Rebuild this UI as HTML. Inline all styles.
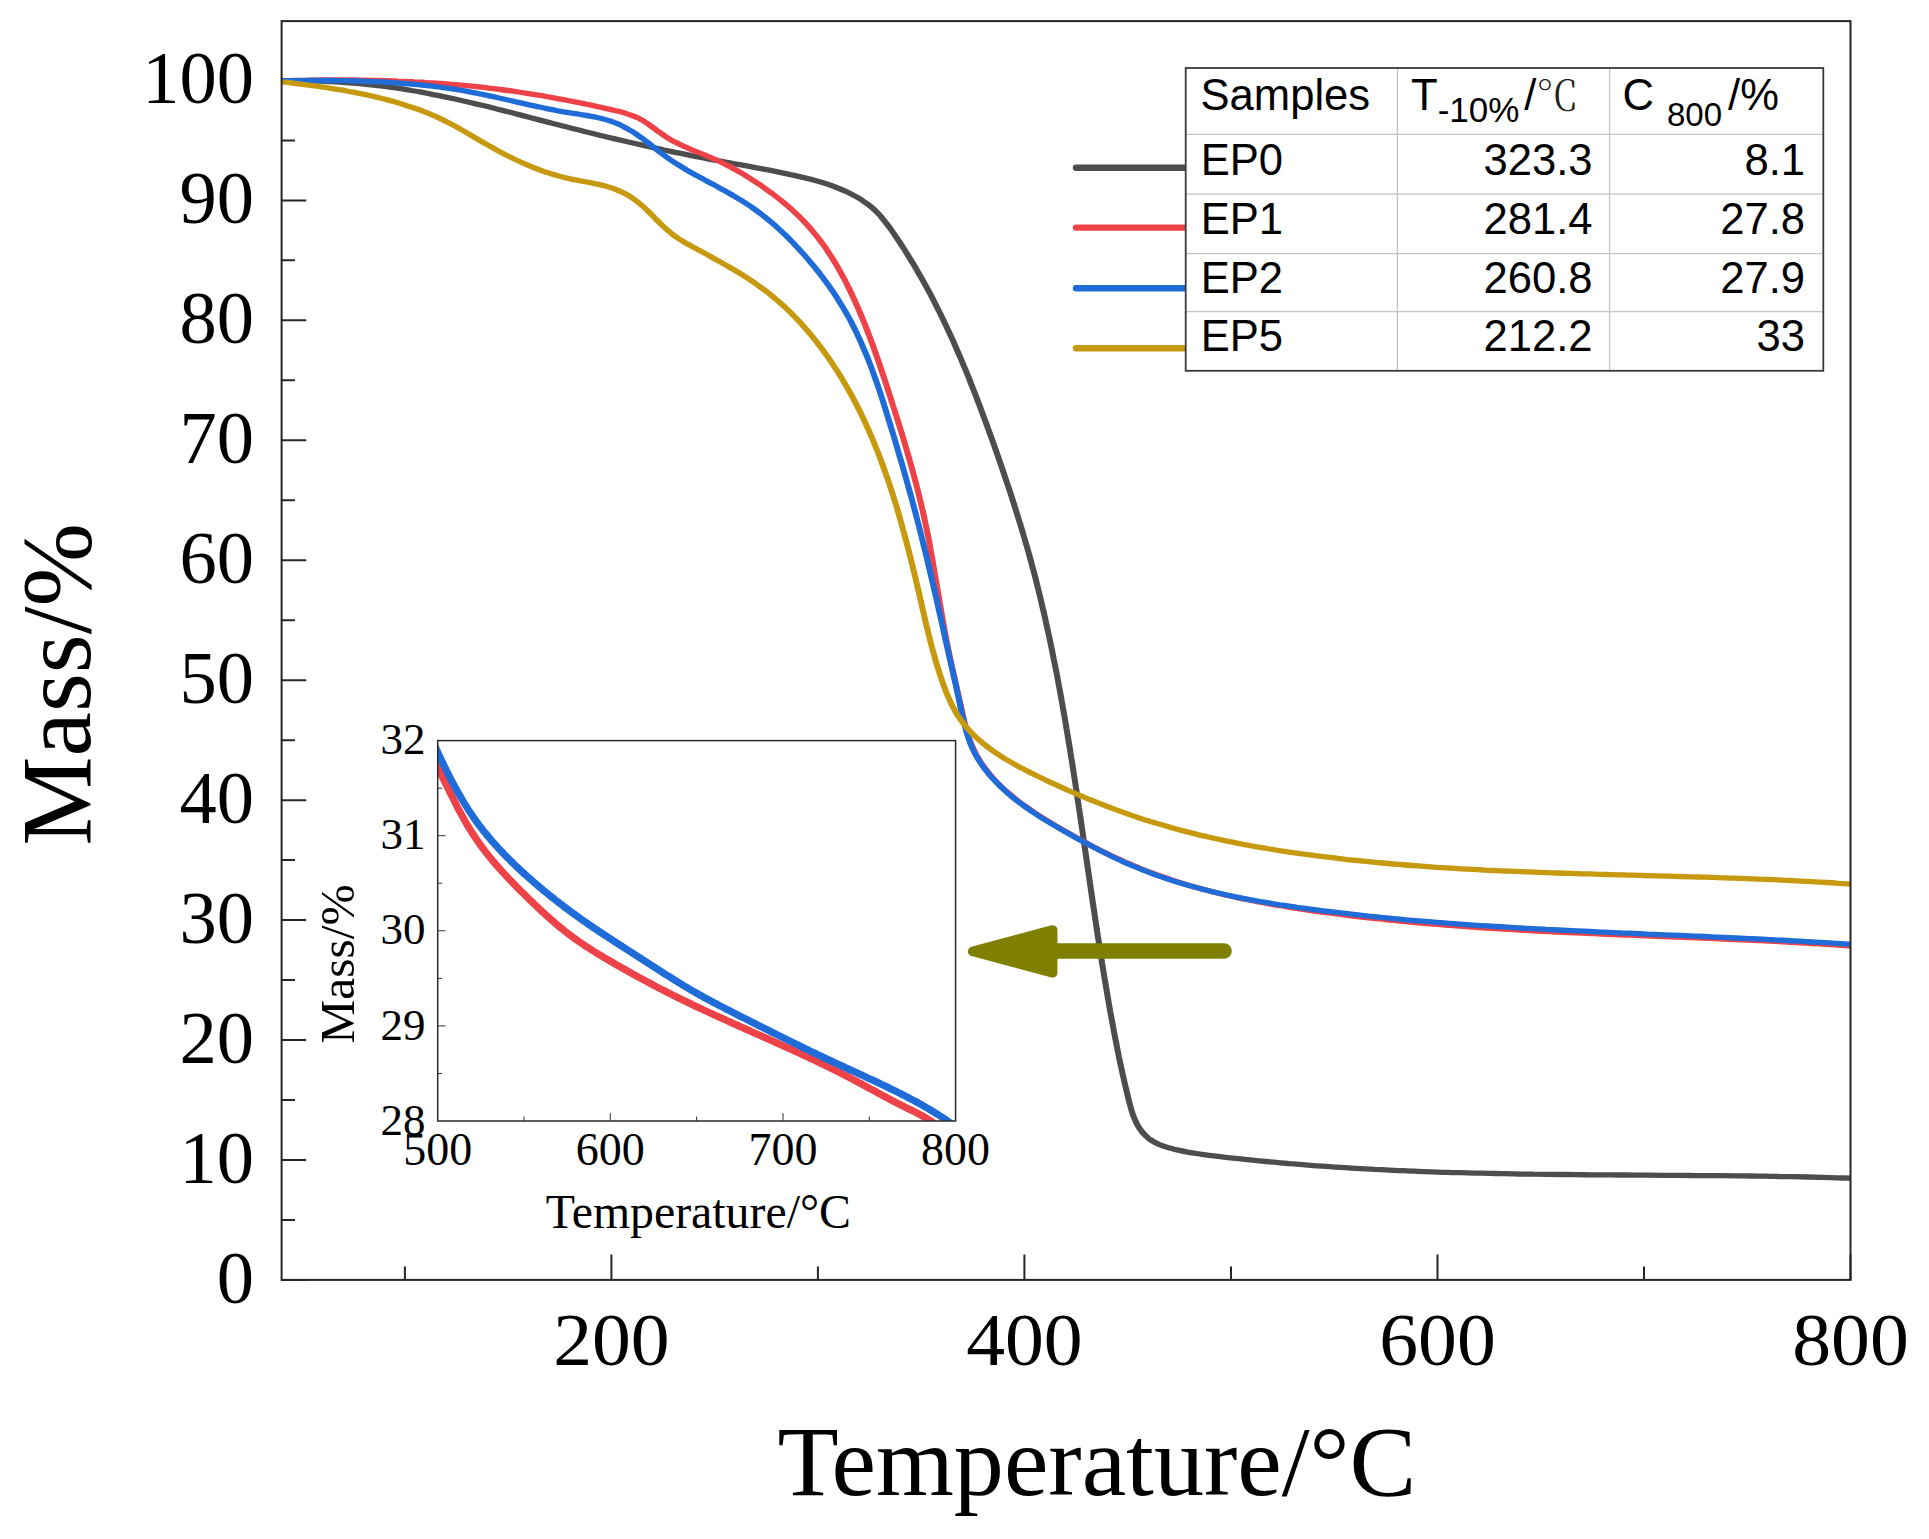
<!DOCTYPE html>
<html lang="en"><head><meta charset="utf-8"><title>TGA curves</title>
<style>html,body{margin:0;padding:0;background:#fff}body{width:1929px;height:1539px;overflow:hidden}svg{display:block}
.s{font-family:"Liberation Serif","Noto Serif CJK SC",serif;fill:#000}.a{font-family:"Liberation Sans","Noto Sans CJK SC",sans-serif;fill:#000}.cj{font-family:"Liberation Serif","Noto Serif CJK SC",serif;fill:#222;font-weight:300}
</style></head><body>
<svg width="1929" height="1539" viewBox="0 0 1929 1539">
<rect width="1929" height="1539" fill="#fff"/>
<defs><clipPath id="cm"><rect x="281.6" y="21.1" width="1568.9" height="1258.8"/></clipPath>
<clipPath id="ci"><rect x="437.7" y="740.6" width="517.9" height="380.4"/></clipPath></defs>
<path d="M281.6 1280.0h24.6M281.6 1160.0h24.6M281.6 1040.1h24.6M281.6 920.1h24.6M281.6 800.2h24.6M281.6 680.2h24.6M281.6 560.2h24.6M281.6 440.3h24.6M281.6 320.3h24.6M281.6 200.4h24.6M281.6 80.4h24.6M281.6 1220.0h13.4M281.6 1100.1h13.4M281.6 980.1h13.4M281.6 860.1h13.4M281.6 740.2h13.4M281.6 620.2h13.4M281.6 500.3h13.4M281.6 380.3h13.4M281.6 260.3h13.4M281.6 140.4h13.4M611.4 1280.0v-25.6M1024.4 1280.0v-25.6M1437.5 1280.0v-25.6M1850.5 1280.0v-25.6M404.9 1280.0v-13.4M817.9 1280.0v-13.4M1231.0 1280.0v-13.4M1644.0 1280.0v-13.4" stroke="#262626" stroke-width="2" fill="none"/>
<g clip-path="url(#cm)"><g transform="scale(1.14 1)" fill="none" stroke-width="5.3" stroke-linejoin="round" stroke-linecap="butt">
<path d="M247.4 80.7C250.3 80.7 253.8 80.7 256.1 80.7C257.7 80.7 258.4 80.7 260.0 80.7C263.0 80.7 270.9 80.9 272.7 80.9C273.2 81.0 273.2 81.0 273.7 81.0C275.4 81.0 282.1 81.3 285.4 81.4C287.7 81.5 289.2 81.6 291.2 81.7C293.4 81.9 295.5 82.0 298.0 82.2C301.3 82.4 307.3 82.9 309.2 83.1C309.9 83.2 310.0 83.2 310.7 83.2C312.8 83.4 320.2 84.2 323.3 84.6C325.1 84.8 325.9 84.9 327.5 85.1C329.8 85.4 333.0 85.8 335.9 86.2C339.0 86.7 343.4 87.4 345.6 87.7C346.9 87.9 347.2 88.0 348.4 88.2C351.1 88.6 356.8 89.7 360.9 90.5C365.0 91.2 371.7 92.7 373.0 92.9C373.2 93.0 373.1 93.0 373.4 93.0C374.6 93.3 381.6 94.8 385.8 95.8C389.9 96.8 394.1 97.8 398.1 98.8C402.0 99.8 407.5 101.2 409.3 101.7C409.9 101.8 409.9 101.8 410.5 102.0C412.4 102.5 418.7 104.2 422.8 105.3C426.9 106.4 431.2 107.6 435.1 108.8C438.8 109.8 443.8 111.3 445.8 111.8C446.6 112.1 446.6 112.1 447.4 112.3C449.6 113.0 455.6 114.7 459.7 115.9C463.8 117.1 468.1 118.4 472.0 119.6C475.5 120.6 480.1 122.0 482.2 122.6C483.1 122.9 483.3 122.9 484.2 123.2C486.6 123.9 492.4 125.6 496.5 126.8C500.6 128.0 508.4 130.2 508.8 130.3C508.8 130.3 508.8 130.3 508.8 130.3C509.1 130.4 517.7 132.9 521.1 133.8C523.4 134.5 525.0 134.9 527.0 135.5C529.1 136.0 530.9 136.5 533.3 137.2C536.7 138.1 544.4 140.2 545.4 140.5C545.5 140.5 545.5 140.5 545.6 140.5C546.6 140.8 553.8 142.7 558.0 143.8C562.1 144.8 567.9 146.3 570.3 146.9C571.2 147.1 571.4 147.2 572.3 147.4C574.4 147.9 579.0 149.1 582.6 150.0C586.6 150.9 590.9 152.0 595.0 152.9C599.2 153.9 605.4 155.3 607.4 155.8C608.1 155.9 608.1 155.9 608.7 156.1C610.6 156.5 616.0 157.7 619.9 158.6C623.9 159.5 628.4 160.4 632.3 161.2C635.9 162.0 640.2 162.9 642.4 163.4C643.5 163.6 643.7 163.6 644.8 163.9C647.4 164.4 653.2 165.6 657.3 166.4C661.5 167.3 667.7 168.7 669.8 169.1C670.5 169.3 670.5 169.3 671.2 169.4C673.1 169.8 678.6 171.0 682.2 171.9C685.9 172.8 691.5 174.1 693.4 174.6C694.0 174.7 694.0 174.7 694.6 174.9C696.6 175.4 703.8 177.3 706.9 178.1C708.8 178.6 709.8 178.9 711.5 179.4C713.7 180.1 716.3 180.9 719.0 181.8C722.3 182.9 727.9 185.0 729.8 185.7C730.4 186.0 730.4 186.0 731.0 186.3C733.0 187.1 741.2 191.0 742.8 191.8C743.2 192.0 743.2 192.0 743.6 192.2C745.0 193.0 751.3 196.8 752.9 197.9C753.5 198.3 753.6 198.3 754.2 198.7C755.7 199.9 760.2 203.4 762.1 205.0C763.1 205.9 763.5 206.2 764.5 207.2C766.2 208.9 769.5 212.5 771.1 214.4C772.1 215.6 772.4 216.1 773.3 217.3C775.0 219.6 778.6 224.9 779.9 226.8C780.4 227.7 780.5 227.8 781.0 228.7C782.4 230.9 787.1 238.8 788.2 240.6C788.5 241.1 788.5 241.0 788.8 241.6C789.7 243.3 793.4 249.6 795.1 252.7C796.2 254.8 797.0 256.2 798.0 258.1C799.2 260.2 800.3 262.4 801.7 265.0C803.4 268.4 806.8 275.1 807.6 276.7C807.9 277.1 807.8 277.1 808.1 277.5C808.9 279.3 812.9 287.5 814.2 290.2C814.8 291.5 815.0 291.9 815.6 293.2C816.7 295.5 818.9 300.3 820.1 303.0C820.9 304.9 821.4 306.0 822.2 307.8C823.2 310.1 824.5 312.9 825.8 316.0C827.4 319.8 831.1 328.6 831.2 329.0C831.2 329.0 831.2 329.0 831.2 329.0C831.4 329.4 834.8 337.8 836.5 342.1C838.2 346.5 841.2 354.4 841.5 355.2C841.6 355.3 841.6 355.3 841.6 355.3C841.9 356.2 844.9 364.2 846.5 368.6C848.0 372.9 850.4 379.6 851.0 381.2C851.1 381.6 851.1 381.6 851.2 382.0C851.8 383.7 854.4 391.1 855.9 395.4C857.2 399.4 859.0 404.9 859.8 407.1C860.1 407.9 860.1 408.0 860.4 408.9C861.1 411.3 863.4 418.2 864.8 422.4C865.9 426.1 867.3 430.4 868.1 432.9C868.5 434.2 868.6 434.6 869.1 436.0C870.0 438.9 872.1 445.5 873.3 449.6C874.3 452.8 875.2 455.8 876.0 458.3C876.6 460.2 876.9 461.2 877.5 463.2C878.5 466.6 880.5 473.2 881.6 476.9C882.3 479.4 882.8 481.1 883.5 483.3C884.2 485.6 884.8 487.8 885.6 490.6C886.7 494.5 888.6 501.0 889.5 504.4C890.1 506.3 890.3 507.1 890.8 508.9C891.5 511.4 892.4 514.8 893.3 518.2C894.5 522.3 896.3 529.1 897.0 532.0C897.4 533.4 897.5 533.7 897.8 535.1C898.5 537.6 899.6 542.1 900.6 545.9C901.7 550.2 903.5 557.6 904.0 559.8C904.2 560.5 904.2 560.4 904.3 561.1C904.8 563.2 906.3 569.5 907.3 573.7C908.3 578.1 909.9 585.5 910.3 587.1C910.3 587.4 910.3 587.4 910.4 587.7C910.8 589.4 912.5 597.3 913.4 601.7C914.2 605.7 915.2 610.5 915.7 613.0C916.0 614.2 916.0 614.5 916.3 615.8C916.8 618.7 918.2 625.7 919.0 629.9C919.7 633.2 920.3 636.3 920.7 638.9C921.1 640.8 921.3 641.9 921.7 644.0C922.3 647.5 923.8 655.9 924.2 658.1C924.3 658.8 924.3 658.7 924.4 659.4C924.8 661.4 926.1 669.1 926.7 672.3C927.0 674.0 927.1 674.7 927.4 676.4C927.8 679.0 928.5 682.9 929.0 686.4C929.7 690.4 930.7 696.7 931.0 698.9C931.2 699.8 931.2 699.8 931.3 700.6C931.7 703.1 932.8 710.5 933.5 714.9C934.1 718.5 934.6 722.4 935.0 725.0C935.3 726.7 935.4 727.3 935.6 729.1C936.1 732.4 937.1 739.3 937.7 743.3C938.1 746.3 938.5 748.6 938.8 751.0C939.1 753.3 939.4 755.0 939.7 757.6C940.3 761.4 941.2 768.0 941.7 771.9C942.0 774.5 942.3 776.2 942.6 778.5C942.9 780.9 943.2 783.2 943.6 786.2C944.2 790.2 945.0 796.5 945.5 800.4C945.9 803.2 946.1 805.3 946.4 807.6C946.8 810.0 947.0 812.0 947.4 814.7C947.9 818.7 948.7 824.7 949.2 829.0C949.7 832.6 950.1 836.0 950.4 838.7C950.7 840.5 950.8 841.4 951.0 843.3C951.5 846.8 952.4 854.4 952.9 857.6C953.1 859.3 953.1 859.9 953.3 861.5C953.7 864.1 954.3 868.8 954.7 871.9C955.0 874.5 955.3 876.7 955.6 879.1C955.9 881.5 956.1 883.4 956.5 886.2C957.0 890.2 958.0 897.7 958.3 900.5C958.5 901.7 958.5 902.0 958.7 903.1C959.0 905.6 959.7 910.7 960.2 914.8C960.8 919.3 961.8 927.1 962.1 929.1C962.2 929.6 962.2 929.6 962.2 930.1C962.5 932.0 963.4 938.9 964.0 943.3C964.6 947.9 965.7 955.5 965.9 957.0C965.9 957.3 965.9 957.3 966.0 957.6C966.2 959.2 967.3 967.3 968.0 971.8C968.6 976.0 969.4 981.6 969.8 983.9C969.9 984.9 969.9 985.0 970.1 986.0C970.5 988.7 971.5 995.9 972.2 1000.2C972.8 1004.1 973.4 1008.3 973.8 1010.9C974.1 1012.4 974.1 1012.9 974.4 1014.4C974.9 1017.6 976.0 1024.4 976.7 1028.6C977.2 1032.0 977.8 1035.3 978.2 1037.9C978.5 1039.7 978.7 1040.7 979.1 1042.7C979.7 1046.2 980.8 1052.8 981.5 1056.9C982.1 1059.9 982.5 1062.3 983.0 1064.8C983.4 1067.0 983.7 1068.5 984.2 1071.0C984.9 1074.8 986.4 1082.2 987.0 1085.2C987.3 1086.7 987.4 1087.0 987.7 1088.4C988.2 1091.0 989.3 1096.2 990.0 1099.5C990.6 1102.3 991.2 1104.7 991.8 1107.1C992.3 1109.4 992.8 1111.4 993.5 1113.7C994.3 1116.2 995.3 1119.2 996.3 1121.5C997.0 1123.4 997.7 1125.0 998.7 1126.7C999.6 1128.5 1000.7 1130.2 1001.9 1132.0C1003.3 1133.8 1005.2 1136.1 1006.6 1137.4C1007.4 1138.3 1007.8 1138.7 1008.8 1139.5C1010.7 1140.9 1015.6 1143.9 1017.1 1144.7C1017.7 1145.0 1017.7 1145.0 1018.3 1145.2C1020.1 1145.9 1026.7 1148.2 1029.3 1149.0C1030.7 1149.5 1031.2 1149.6 1032.5 1149.9C1034.8 1150.5 1038.5 1151.4 1041.7 1152.1C1045.1 1152.8 1050.4 1153.7 1052.5 1154.0C1053.3 1154.2 1053.4 1154.2 1054.2 1154.3C1056.5 1154.7 1063.0 1155.6 1066.8 1156.1C1069.9 1156.6 1073.0 1157.0 1075.3 1157.3C1076.9 1157.5 1077.7 1157.6 1079.4 1157.8C1082.5 1158.2 1088.3 1158.9 1092.0 1159.4C1095.1 1159.8 1098.1 1160.1 1100.4 1160.4C1102.1 1160.6 1102.9 1160.7 1104.7 1160.9C1107.7 1161.2 1113.1 1161.8 1117.3 1162.2C1121.5 1162.7 1127.7 1163.3 1129.9 1163.5C1130.6 1163.6 1130.7 1163.6 1131.4 1163.7C1133.4 1163.9 1138.7 1164.4 1142.5 1164.7C1146.6 1165.1 1151.0 1165.5 1155.2 1165.8C1159.1 1166.1 1165.3 1166.6 1166.9 1166.7C1167.4 1166.8 1167.3 1166.8 1167.8 1166.8C1169.5 1166.9 1176.2 1167.4 1180.4 1167.7C1184.6 1168.0 1189.1 1168.3 1193.1 1168.6C1196.7 1168.8 1201.1 1169.1 1203.4 1169.2C1204.4 1169.3 1204.6 1169.3 1205.7 1169.4C1208.3 1169.5 1214.1 1169.9 1218.4 1170.1C1222.6 1170.3 1227.4 1170.6 1231.0 1170.7C1233.7 1170.9 1235.9 1171.0 1238.2 1171.1C1240.1 1171.2 1241.4 1171.2 1243.7 1171.3C1247.0 1171.5 1252.1 1171.7 1256.3 1171.8C1260.5 1172.0 1264.8 1172.2 1269.0 1172.3C1273.2 1172.5 1277.4 1172.6 1281.6 1172.7C1285.9 1172.9 1290.1 1173.0 1294.3 1173.1C1298.5 1173.2 1303.7 1173.3 1307.0 1173.4C1309.0 1173.5 1310.1 1173.5 1311.9 1173.5C1314.2 1173.6 1316.7 1173.7 1319.6 1173.7C1323.3 1173.8 1328.1 1173.9 1332.3 1174.0C1336.5 1174.0 1340.7 1174.1 1345.0 1174.2C1349.2 1174.2 1353.4 1174.3 1357.6 1174.4C1361.9 1174.4 1366.1 1174.5 1370.3 1174.5C1374.5 1174.6 1378.7 1174.6 1383.0 1174.7C1387.2 1174.7 1391.4 1174.8 1395.6 1174.8C1399.9 1174.8 1404.1 1174.9 1408.3 1174.9C1412.5 1174.9 1417.6 1175.0 1421.0 1175.0C1423.2 1175.0 1424.5 1175.0 1426.4 1175.0C1428.6 1175.1 1430.9 1175.1 1433.7 1175.1C1437.3 1175.1 1442.1 1175.2 1446.3 1175.2C1450.6 1175.2 1454.8 1175.2 1459.0 1175.3C1463.2 1175.3 1467.5 1175.3 1471.7 1175.4C1475.9 1175.4 1480.1 1175.4 1484.4 1175.5C1488.6 1175.5 1492.8 1175.5 1497.0 1175.6C1501.2 1175.6 1505.5 1175.7 1509.7 1175.7C1513.9 1175.8 1518.1 1175.8 1522.4 1175.9C1526.6 1175.9 1530.8 1176.0 1535.0 1176.0C1539.3 1176.1 1544.3 1176.2 1547.7 1176.2C1550.1 1176.3 1551.6 1176.3 1553.7 1176.3C1555.8 1176.4 1557.8 1176.4 1560.4 1176.5C1563.9 1176.5 1568.8 1176.6 1573.0 1176.7C1577.3 1176.8 1581.5 1176.9 1585.7 1177.0C1589.9 1177.1 1594.1 1177.3 1598.4 1177.4C1602.6 1177.5 1606.8 1177.6 1611.0 1177.8C1615.2 1177.9 1619.5 1178.1 1623.7 1178.2" stroke="#4d4d4d"/>
<path d="M247.4 80.7C250.3 80.6 254.1 80.5 256.2 80.5C257.2 80.4 257.5 80.4 258.7 80.4C261.1 80.4 267.2 80.2 270.0 80.2C271.5 80.1 272.3 80.1 273.7 80.1C275.8 80.1 278.5 80.1 281.2 80.0C284.3 80.0 289.5 80.0 291.3 80.0C291.9 80.0 291.9 80.0 292.5 80.0C294.4 80.0 300.7 80.0 303.8 80.0C305.9 80.0 307.4 80.0 309.3 80.0C311.2 80.0 312.8 80.0 315.0 80.1C318.2 80.1 324.4 80.3 326.3 80.3C326.9 80.3 326.9 80.3 327.5 80.3C329.3 80.4 334.4 80.5 337.6 80.6C340.4 80.7 343.6 80.8 345.7 80.9C346.9 81.0 347.4 81.0 348.8 81.1C351.4 81.2 357.3 81.5 360.0 81.6C361.6 81.7 362.3 81.7 363.7 81.8C365.8 81.9 368.5 82.1 371.3 82.3C374.5 82.5 380.5 83.0 381.9 83.1C382.2 83.1 382.2 83.1 382.5 83.1C383.9 83.2 390.5 83.8 393.7 84.1C396.2 84.3 398.1 84.5 400.1 84.7C401.9 84.9 403.0 85.0 405.0 85.2C407.9 85.5 413.9 86.2 416.2 86.4C417.2 86.6 417.4 86.6 418.4 86.7C420.4 87.0 424.4 87.5 427.4 87.9C430.4 88.3 434.7 88.9 436.6 89.2C437.5 89.3 437.7 89.3 438.6 89.5C440.8 89.8 446.8 90.7 449.8 91.2C451.8 91.5 453.1 91.7 454.8 92.0C456.8 92.4 458.6 92.7 461.0 93.1C464.1 93.7 468.5 94.5 472.1 95.2C475.6 95.8 480.6 96.8 482.2 97.1C482.8 97.2 482.7 97.2 483.3 97.3C485.0 97.7 490.7 98.9 494.4 99.7C498.1 100.5 502.8 101.5 505.4 102.1C507.0 102.5 507.6 102.6 509.0 102.9C511.1 103.4 513.8 104.0 516.5 104.7C519.6 105.4 525.1 106.8 526.6 107.2C527.1 107.3 527.0 107.3 527.5 107.4C529.0 107.8 535.3 109.3 538.4 110.2C540.8 110.8 542.8 111.4 544.7 111.9C546.4 112.4 547.5 112.7 549.2 113.4C551.7 114.3 556.8 116.5 558.4 117.2C558.9 117.5 559.0 117.5 559.5 117.8C561.0 118.7 566.5 122.4 567.9 123.5C568.5 123.9 568.5 123.9 569.0 124.4C570.5 125.6 575.7 130.0 577.1 131.2C577.6 131.7 577.6 131.7 578.2 132.1C579.6 133.3 584.3 136.9 585.9 138.1C586.7 138.6 586.8 138.7 587.6 139.2C589.6 140.5 595.7 144.0 597.7 145.1C598.5 145.6 598.7 145.7 599.5 146.1C601.3 147.0 605.1 148.9 608.0 150.3C611.2 151.8 616.6 154.3 617.9 154.9C618.2 155.0 618.2 155.0 618.5 155.1C619.8 155.8 625.7 158.6 628.8 160.2C631.5 161.6 634.3 163.2 636.1 164.2C637.3 164.9 637.7 165.1 638.9 165.9C641.2 167.2 646.4 170.5 648.7 172.0C650.0 172.8 650.4 173.1 651.6 173.9C653.4 175.2 656.2 177.1 658.3 178.7C660.4 180.2 662.7 181.8 664.4 183.1C665.7 184.1 666.4 184.6 667.8 185.7C670.1 187.6 675.8 192.3 677.0 193.2C677.3 193.4 677.2 193.4 677.5 193.6C678.6 194.6 683.9 199.3 685.9 201.2C687.1 202.3 687.7 202.8 688.8 203.9C690.4 205.4 692.8 207.8 694.5 209.5C695.9 210.9 696.9 212.0 698.1 213.4C699.6 214.9 701.2 216.7 702.7 218.4C704.2 220.2 705.9 222.2 707.2 223.8C708.4 225.3 709.2 226.2 710.4 227.8C712.0 230.0 715.1 234.2 716.3 235.9C716.9 236.7 717.0 236.8 717.5 237.6C718.8 239.6 722.8 245.8 724.2 247.9C724.8 248.9 724.9 249.1 725.4 250.0C726.5 251.9 728.8 255.9 730.3 258.6C731.7 261.1 733.1 263.8 734.2 265.9C734.9 267.3 735.3 268.1 736.1 269.7C737.4 272.5 740.6 279.2 741.5 281.0C741.7 281.6 741.7 281.6 742.0 282.2C742.8 283.9 745.5 290.3 746.5 292.6C746.9 293.7 747.1 294.0 747.5 295.1C748.4 297.2 750.3 301.9 751.2 304.2C751.8 305.7 752.0 306.4 752.6 307.8C753.4 310.0 754.6 313.0 755.6 316.0C757.0 319.6 759.3 326.3 759.9 327.9C760.0 328.4 760.0 328.3 760.1 328.7C760.7 330.3 762.6 336.1 763.9 339.9C765.2 343.9 766.9 349.3 767.7 352.0C768.1 353.3 768.3 353.7 768.6 355.0C769.3 357.2 770.5 360.8 771.4 364.1C772.6 367.9 774.1 373.1 775.0 376.3C775.6 378.3 775.9 379.4 776.4 381.1C777.1 383.3 777.8 385.7 778.5 388.5C779.6 392.1 781.0 397.3 782.0 400.7C782.7 403.2 783.2 405.1 783.8 407.2C784.4 409.1 784.8 410.7 785.4 413.0C786.4 416.3 787.8 421.6 788.8 425.2C789.6 428.1 790.3 430.7 790.9 432.9C791.3 434.7 791.6 435.6 792.1 437.5C792.9 440.6 794.4 446.1 795.3 449.9C796.1 452.9 796.9 456.0 797.4 458.2C797.8 459.8 798.0 460.5 798.4 462.2C799.2 465.2 800.5 470.8 801.4 474.6C802.2 477.8 802.9 481.0 803.5 483.3C803.8 484.8 804.0 485.4 804.3 487.0C805.0 489.9 806.2 495.6 807.0 499.5C807.8 502.9 808.6 506.7 809.0 509.0C809.3 510.3 809.4 510.6 809.6 512.0C810.2 514.7 811.3 520.5 812.0 524.5C812.7 528.2 813.5 532.9 813.9 535.1C814.1 536.0 814.1 536.1 814.3 537.1C814.7 539.5 815.7 545.6 816.3 549.7C817.0 553.6 817.8 559.2 818.1 561.1C818.2 561.7 818.2 561.7 818.3 562.4C818.6 564.4 819.6 570.9 820.2 575.1C820.9 579.1 821.8 585.5 822.0 587.1C822.1 587.4 822.1 587.4 822.1 587.7C822.4 589.3 823.4 596.2 824.0 600.4C824.6 604.6 825.8 612.2 825.9 613.0C825.9 613.0 825.9 613.0 825.9 613.1C826.0 613.8 827.2 621.5 827.8 625.7C828.5 629.9 829.7 636.9 829.9 638.3C830.0 638.6 829.9 638.6 830.0 638.9C830.2 640.3 831.4 647.2 832.1 650.9C832.7 654.1 833.3 657.4 833.7 659.7C834.0 661.2 834.1 661.8 834.4 663.4C835.0 666.3 836.5 673.7 836.8 675.3C836.8 675.6 836.8 675.6 836.9 675.9C837.2 677.5 838.8 685.4 839.4 688.5C839.8 690.3 839.9 691.2 840.3 692.9C840.7 695.2 841.3 698.1 841.9 701.1C842.6 704.8 843.8 710.9 844.3 713.7C844.6 715.2 844.7 715.6 845.0 717.0C845.4 719.3 846.2 723.0 847.0 726.3C847.9 730.1 849.6 736.5 850.2 738.6C850.5 739.4 850.5 739.4 850.7 740.2C851.4 742.1 853.3 747.6 854.5 750.4C855.2 752.3 855.8 753.5 856.6 755.2C857.6 757.1 858.9 759.6 859.9 761.5C860.8 763.1 861.4 764.2 862.4 765.7C863.6 767.6 865.4 770.4 866.5 771.9C867.1 772.9 867.4 773.3 868.1 774.2C869.4 776.0 873.2 780.7 873.7 781.4C873.8 781.5 873.8 781.5 873.9 781.6C874.4 782.2 877.7 786.0 879.3 787.6C880.3 788.8 881.1 789.6 882.1 790.6C883.0 791.5 883.7 792.2 884.8 793.3C886.4 794.8 889.2 797.5 890.7 798.8C891.6 799.6 891.9 799.9 892.8 800.7C894.5 802.1 897.6 804.8 899.8 806.6C901.7 808.1 903.6 809.6 905.3 810.9C906.7 812.0 907.5 812.6 909.0 813.8C911.5 815.6 915.8 818.7 918.5 820.6C920.5 822.0 922.0 823.0 923.7 824.2C925.2 825.2 926.3 826.0 928.1 827.2C930.7 828.9 934.7 831.5 937.9 833.5C940.8 835.4 944.7 837.9 946.3 838.9C947.0 839.3 947.1 839.4 947.7 839.8C949.6 840.9 954.8 844.1 957.7 845.9C959.9 847.2 961.8 848.2 963.5 849.3C965.1 850.2 966.2 850.8 967.8 851.7C969.9 852.9 973.0 854.7 974.9 855.7C976.2 856.4 976.7 856.7 978.0 857.4C980.1 858.5 984.6 860.8 986.4 861.8C987.3 862.2 987.4 862.3 988.3 862.7C990.3 863.7 996.9 866.9 998.7 867.7C999.3 868.0 999.4 868.0 1000.0 868.3C1001.7 869.1 1006.0 871.1 1009.2 872.4C1012.6 873.9 1016.7 875.6 1019.7 876.8C1022.0 877.7 1023.9 878.4 1025.8 879.1C1027.4 879.8 1028.5 880.2 1030.4 880.9C1033.2 881.9 1037.6 883.5 1041.1 884.7C1044.7 885.9 1048.4 887.1 1052.0 888.2C1055.4 889.3 1060.8 890.9 1062.2 891.3C1062.5 891.4 1062.5 891.4 1062.8 891.5C1064.2 891.9 1070.1 893.6 1073.8 894.6C1077.4 895.5 1081.1 896.5 1084.7 897.4C1088.4 898.3 1093.3 899.5 1095.8 900.0C1097.1 900.3 1097.5 900.4 1098.7 900.7C1100.8 901.2 1103.9 901.9 1106.8 902.5C1110.3 903.2 1114.2 904.0 1118.0 904.8C1121.7 905.5 1125.6 906.3 1129.1 906.9C1132.1 907.5 1135.4 908.1 1137.5 908.4C1138.6 908.6 1139.0 908.7 1140.2 908.9C1142.7 909.3 1147.7 910.2 1151.4 910.8C1155.1 911.4 1158.9 912.0 1162.6 912.5C1166.3 913.1 1170.1 913.7 1173.8 914.2C1177.5 914.8 1181.2 915.3 1185.0 915.8C1188.7 916.3 1192.5 916.8 1196.2 917.3C1199.6 917.8 1204.6 918.4 1206.3 918.6C1206.8 918.7 1206.8 918.7 1207.4 918.7C1209.2 918.9 1214.9 919.6 1218.6 920.1C1222.3 920.5 1226.1 920.9 1229.8 921.3C1233.5 921.8 1237.3 922.1 1241.0 922.5C1244.8 922.9 1248.5 923.3 1252.3 923.7C1256.0 924.0 1259.7 924.4 1263.5 924.7C1267.2 925.1 1271.0 925.4 1274.7 925.7C1278.5 926.0 1282.2 926.4 1286.0 926.7C1289.7 927.0 1293.4 927.3 1297.2 927.6C1300.9 927.8 1305.8 928.2 1308.4 928.4C1309.9 928.5 1310.5 928.6 1311.9 928.7C1314.0 928.8 1316.9 929.0 1319.7 929.2C1323.1 929.4 1327.2 929.7 1330.9 929.9C1334.7 930.2 1338.4 930.4 1342.2 930.7C1345.9 930.9 1349.7 931.1 1353.4 931.3C1357.2 931.5 1360.9 931.8 1364.7 932.0C1368.5 932.2 1372.2 932.4 1376.0 932.6C1379.7 932.8 1383.5 933.0 1387.2 933.2C1391.0 933.4 1394.7 933.6 1398.5 933.7C1402.2 933.9 1406.0 934.1 1409.7 934.3C1413.5 934.5 1417.9 934.7 1421.0 934.8C1423.1 934.9 1424.6 935.0 1426.4 935.1C1428.3 935.2 1430.0 935.2 1432.3 935.3C1435.4 935.5 1439.8 935.7 1443.5 935.9C1447.3 936.0 1451.0 936.2 1454.8 936.4C1458.6 936.5 1462.3 936.7 1466.1 936.9C1469.8 937.1 1473.6 937.2 1477.3 937.4C1481.1 937.6 1484.8 937.7 1488.6 937.9C1492.4 938.1 1496.1 938.3 1499.9 938.4C1503.6 938.6 1507.4 938.8 1511.1 939.0C1514.9 939.2 1518.6 939.4 1522.4 939.6C1526.2 939.7 1529.9 939.9 1533.7 940.1C1537.4 940.3 1541.4 940.6 1544.9 940.7C1548.0 940.9 1551.7 941.1 1553.7 941.2C1554.8 941.3 1555.0 941.3 1556.2 941.4C1558.6 941.5 1563.7 941.8 1567.4 942.1C1571.2 942.3 1574.9 942.5 1578.7 942.8C1582.4 943.0 1586.2 943.2 1589.9 943.5C1593.7 943.8 1597.4 944.0 1601.2 944.3C1604.9 944.6 1608.7 944.8 1612.4 945.1C1616.2 945.4 1619.9 945.7 1623.7 946.0" stroke="#ec4248"/>
<path d="M247.4 80.7C250.3 80.7 254.1 80.6 256.1 80.6C257.1 80.6 257.4 80.6 258.5 80.6C260.8 80.6 266.9 80.5 269.6 80.5C271.3 80.5 272.1 80.5 273.6 80.5C275.7 80.5 278.2 80.5 280.8 80.5C283.9 80.5 289.7 80.5 291.2 80.5C291.6 80.5 291.6 80.5 292.0 80.5C293.5 80.6 300.0 80.7 303.2 80.7C305.5 80.8 307.3 80.8 309.2 80.9C311.0 80.9 312.3 80.9 314.3 81.0C317.4 81.1 323.3 81.4 325.5 81.5C326.5 81.5 326.6 81.5 327.5 81.5C329.5 81.6 333.7 81.9 336.7 82.0C339.7 82.2 343.7 82.5 345.7 82.7C346.7 82.7 346.9 82.7 347.9 82.8C350.1 83.0 356.1 83.5 359.0 83.8C360.9 84.0 362.1 84.1 363.8 84.3C365.8 84.5 367.7 84.7 370.1 85.0C373.3 85.4 379.6 86.2 381.2 86.4C381.6 86.5 381.6 86.5 382.0 86.5C383.6 86.8 389.0 87.6 392.2 88.1C395.1 88.6 398.2 89.1 400.3 89.5C401.5 89.7 401.9 89.8 403.2 90.0C405.7 90.5 411.4 91.7 414.2 92.3C415.9 92.7 416.8 92.9 418.4 93.2C420.4 93.7 422.6 94.2 425.1 94.8C428.3 95.6 432.5 96.6 436.0 97.5C439.3 98.3 443.8 99.5 445.6 100.0C446.2 100.1 446.2 100.1 446.8 100.3C448.7 100.8 454.1 102.2 457.7 103.1C461.4 104.1 465.0 105.0 468.6 105.9C472.3 106.8 477.3 108.1 479.6 108.6C480.7 108.9 480.9 108.9 481.9 109.1C483.9 109.6 487.5 110.4 490.6 111.1C494.1 111.8 498.4 112.6 501.7 113.2C504.4 113.7 507.1 114.2 509.1 114.5C510.6 114.8 511.3 114.9 512.9 115.2C515.6 115.8 521.4 116.9 523.9 117.5C525.3 117.8 525.8 118.0 527.1 118.3C529.0 118.9 531.9 119.7 534.6 120.8C537.8 122.0 544.5 125.2 544.8 125.4C544.8 125.4 544.8 125.4 544.8 125.4C545.1 125.6 552.0 129.8 554.4 131.4C556.0 132.5 556.8 133.1 558.1 134.1C559.8 135.4 561.9 137.1 563.6 138.5C565.1 139.8 566.5 141.0 568.0 142.3C569.4 143.6 570.8 144.9 572.3 146.3C573.9 147.7 575.8 149.4 577.3 150.8C578.7 152.0 579.7 152.9 581.1 154.1C582.6 155.4 584.5 157.0 586.1 158.2C587.6 159.4 588.6 160.2 590.2 161.4C592.6 163.2 598.4 167.2 599.4 167.9C599.5 168.0 599.5 168.0 599.7 168.1C600.6 168.8 606.2 172.5 609.3 174.5C612.2 176.3 615.9 178.5 617.5 179.6C618.3 180.0 618.4 180.1 619.2 180.6C621.1 181.7 626.0 184.8 629.0 186.6C631.6 188.2 634.3 189.9 636.1 191.0C637.2 191.7 637.7 192.0 638.9 192.8C641.1 194.2 646.1 197.6 648.5 199.2C649.9 200.2 650.6 200.6 651.9 201.6C653.6 202.8 655.7 204.3 657.9 206.0C660.6 208.2 665.1 211.9 666.9 213.4C667.7 214.1 667.9 214.2 668.6 214.9C670.1 216.3 673.4 219.3 675.6 221.4C677.6 223.3 679.7 225.3 681.2 226.9C682.3 228.0 683.0 228.7 684.0 229.8C685.2 231.1 686.8 232.8 688.2 234.3C689.5 235.7 690.7 237.1 692.0 238.6C693.6 240.4 695.7 242.9 697.1 244.6C698.2 245.8 698.7 246.5 699.8 247.8C701.6 250.0 705.7 255.3 706.8 256.6C707.0 256.9 707.0 256.9 707.3 257.3C708.3 258.7 713.2 265.2 714.5 267.0C715.1 267.8 715.1 267.8 715.6 268.6C716.8 270.2 719.8 274.6 721.4 277.1C722.7 279.0 723.7 280.6 724.9 282.3C725.9 284.0 726.9 285.5 728.0 287.3C729.4 289.6 731.4 292.9 732.6 294.9C733.3 296.1 733.5 296.6 734.3 297.9C735.5 300.2 738.6 305.9 739.5 307.5C739.8 308.1 739.8 308.1 740.1 308.7C741.0 310.5 743.9 316.2 745.6 319.7C747.0 322.8 748.7 326.6 749.6 328.6C750.1 329.7 750.2 329.9 750.6 331.0C751.6 333.4 753.8 338.7 755.3 342.5C756.8 346.4 759.2 352.9 759.7 354.2C759.8 354.5 759.8 354.4 759.9 354.7C760.3 355.9 762.5 362.2 763.8 366.0C765.1 370.0 766.8 375.4 767.6 378.0C768.0 379.3 768.1 379.7 768.5 380.9C769.2 383.1 770.3 386.8 771.3 390.1C772.4 393.8 773.9 399.1 774.8 402.2C775.3 404.2 775.6 405.4 776.1 407.2C776.7 409.3 777.4 411.7 778.1 414.4C779.1 417.9 780.5 423.2 781.4 426.6C782.1 429.1 782.6 431.0 783.2 433.1C783.7 435.1 784.1 436.5 784.7 438.8C785.5 442.1 786.9 447.4 787.8 451.0C788.6 453.8 789.2 456.2 789.7 458.4C790.2 460.2 790.5 461.2 791.0 463.2C791.8 466.3 793.1 471.8 794.0 475.4C794.8 478.4 795.4 481.1 796.0 483.4C796.4 485.0 796.6 485.9 797.0 487.7C797.8 490.7 799.1 496.1 800.0 499.9C800.7 503.1 801.6 506.7 802.1 508.9C802.4 510.3 802.5 510.7 802.9 512.2C803.5 515.0 804.8 520.5 805.7 524.5C806.5 528.1 807.6 532.9 808.0 535.0C808.2 535.8 808.2 535.9 808.4 536.8C808.9 539.1 810.2 545.1 811.1 549.1C812.0 553.1 813.4 559.8 813.7 561.1C813.7 561.3 813.7 561.3 813.8 561.5C814.0 562.8 815.5 569.8 816.3 573.9C817.2 578.0 818.5 584.7 818.9 586.3C818.9 586.7 818.9 586.7 819.0 587.1C819.3 588.6 820.6 594.8 821.4 598.7C822.2 602.8 823.4 608.9 823.8 611.2C824.0 612.0 824.0 612.1 824.2 613.0C824.6 615.0 825.6 619.9 826.3 623.6C827.1 627.6 828.2 633.3 828.7 636.0C829.0 637.3 829.0 637.7 829.3 638.9C829.7 641.2 830.5 645.1 831.2 648.4C831.9 652.1 833.1 658.2 833.4 659.9C833.5 660.3 833.5 660.3 833.6 660.8C834.0 662.6 835.6 670.7 836.1 673.2C836.3 674.3 836.3 674.5 836.5 675.5C836.9 677.7 837.9 682.5 838.5 685.6C839.0 688.3 839.5 690.9 839.9 693.2C840.3 695.0 840.5 696.0 840.9 698.0C841.5 701.2 842.5 707.0 843.2 710.6C843.7 713.2 844.1 715.2 844.5 717.3C844.9 719.3 845.2 720.8 845.7 723.1C846.5 726.4 847.8 732.1 848.7 735.4C849.3 737.5 849.7 738.7 850.3 740.5C850.9 742.6 851.7 744.9 852.6 747.2C853.6 749.9 855.3 753.5 856.2 755.6C856.8 756.8 857.1 757.3 857.7 758.4C858.8 760.4 861.0 764.2 862.1 766.1C862.9 767.3 863.2 767.9 863.9 769.0C865.0 770.5 866.7 772.9 867.9 774.7C869.0 776.2 870.1 777.5 871.1 778.8C872.0 779.9 872.6 780.7 873.6 781.8C875.0 783.5 878.3 787.2 878.9 787.9C879.0 788.0 879.0 788.0 879.2 788.2C879.8 788.8 883.2 792.4 884.7 793.9C885.7 794.8 886.2 795.3 887.2 796.3C888.7 797.7 891.1 799.8 892.6 801.2C893.9 802.3 894.6 802.9 896.0 804.1C898.2 806.0 904.7 811.1 905.0 811.4C905.1 811.4 905.0 811.4 905.1 811.4C905.4 811.7 911.3 816.0 914.4 818.3C917.4 820.4 922.6 823.9 923.6 824.6C923.8 824.7 923.7 824.7 924.0 824.8C925.0 825.6 930.4 829.1 933.7 831.2C936.9 833.3 941.1 836.0 943.5 837.5C944.7 838.3 945.2 838.6 946.4 839.4C948.3 840.5 950.8 842.1 953.3 843.6C956.3 845.4 962.1 848.9 963.2 849.6C963.5 849.7 963.4 849.7 963.6 849.8C964.7 850.4 971.3 854.2 973.3 855.3C974.1 855.7 974.2 855.8 975.0 856.2C976.7 857.2 981.3 859.6 983.4 860.7C984.7 861.4 985.2 861.7 986.5 862.3C988.4 863.3 991.3 864.7 993.6 865.9C995.8 866.9 998.1 868.0 1000.0 868.9C1001.5 869.5 1002.3 869.9 1003.9 870.6C1006.5 871.8 1010.8 873.6 1014.3 875.1C1017.8 876.5 1023.3 878.6 1024.8 879.2C1025.3 879.4 1025.3 879.4 1025.7 879.5C1027.2 880.1 1032.1 881.9 1035.4 883.0C1038.9 884.2 1042.6 885.4 1046.1 886.5C1049.7 887.7 1053.9 888.9 1056.9 889.8C1058.9 890.4 1060.3 890.8 1062.1 891.3C1064.0 891.8 1065.5 892.2 1067.7 892.8C1070.7 893.6 1075.0 894.7 1078.6 895.6C1082.2 896.5 1086.0 897.4 1089.5 898.1C1092.7 898.9 1096.8 899.7 1098.7 900.1C1099.5 900.3 1099.6 900.3 1100.5 900.5C1102.7 901.0 1107.9 902.0 1111.5 902.7C1115.2 903.4 1118.9 904.1 1122.6 904.8C1126.3 905.4 1130.9 906.2 1133.7 906.7C1135.2 906.9 1136.0 907.0 1137.4 907.3C1139.5 907.6 1142.1 908.0 1144.8 908.4C1148.1 909.0 1152.2 909.6 1155.9 910.1C1159.6 910.7 1163.3 911.2 1167.0 911.7C1170.7 912.2 1174.4 912.7 1178.1 913.2C1181.8 913.7 1185.5 914.2 1189.2 914.7C1192.9 915.2 1197.1 915.7 1200.3 916.1C1202.6 916.3 1204.4 916.5 1206.4 916.8C1208.1 917.0 1209.4 917.1 1211.4 917.4C1214.4 917.7 1218.8 918.2 1222.5 918.6C1226.2 919.0 1229.9 919.4 1233.6 919.8C1237.4 920.1 1241.1 920.5 1244.8 920.9C1248.5 921.2 1252.2 921.6 1255.9 921.9C1259.6 922.3 1263.3 922.6 1267.0 922.9C1270.7 923.3 1274.4 923.6 1278.1 923.9C1281.9 924.2 1285.6 924.5 1289.3 924.8C1293.0 925.1 1296.7 925.4 1300.4 925.6C1304.1 925.9 1310.3 926.4 1311.5 926.5C1311.8 926.5 1311.7 926.5 1312.0 926.5C1313.2 926.6 1319.1 927.0 1322.7 927.2C1326.3 927.5 1330.1 927.7 1333.8 928.0C1337.5 928.2 1341.2 928.5 1344.9 928.7C1348.7 928.9 1352.4 929.1 1356.1 929.4C1359.8 929.6 1363.5 929.8 1367.2 930.0C1370.9 930.2 1374.6 930.4 1378.4 930.6C1382.1 930.8 1385.8 931.0 1389.5 931.2C1393.2 931.4 1396.9 931.6 1400.6 931.8C1404.4 932.0 1408.1 932.2 1411.8 932.4C1415.5 932.6 1420.3 932.8 1422.9 933.0C1424.4 933.0 1425.0 933.1 1426.4 933.1C1428.4 933.2 1431.3 933.4 1434.1 933.5C1437.5 933.7 1441.5 933.9 1445.2 934.1C1448.9 934.2 1452.7 934.4 1456.4 934.6C1460.1 934.8 1463.8 935.0 1467.5 935.1C1471.2 935.3 1475.0 935.5 1478.7 935.7C1482.4 935.9 1486.1 936.1 1489.8 936.2C1493.5 936.4 1497.3 936.6 1501.0 936.8C1504.7 937.0 1508.4 937.2 1512.1 937.4C1515.9 937.6 1519.6 937.8 1523.3 938.0C1527.0 938.2 1530.7 938.4 1534.4 938.6C1538.2 938.8 1542.2 939.0 1545.6 939.2C1548.5 939.4 1551.6 939.5 1553.6 939.7C1554.9 939.7 1555.4 939.8 1556.8 939.8C1559.3 940.0 1564.2 940.3 1567.9 940.5C1571.6 940.7 1575.3 941.0 1579.1 941.2C1582.8 941.5 1586.5 941.7 1590.2 942.0C1593.9 942.2 1597.7 942.5 1601.4 942.7C1605.1 943.0 1608.8 943.3 1612.5 943.5C1616.2 943.8 1620.0 944.1 1623.7 944.4" stroke="#1f6cd8"/>
<path d="M247.4 81.8C250.3 82.2 254.3 82.8 256.1 83.0C257.0 83.1 257.1 83.2 258.0 83.3C260.1 83.6 265.7 84.4 268.6 84.8C270.5 85.1 271.8 85.3 273.5 85.6C275.3 85.8 277.0 86.1 279.2 86.5C282.2 87.0 288.0 87.9 289.8 88.3C290.4 88.4 290.4 88.4 291.0 88.5C292.7 88.8 297.3 89.6 300.3 90.2C303.3 90.8 307.5 91.7 309.2 92.0C310.0 92.2 310.1 92.2 310.9 92.4C312.9 92.8 318.3 94.1 321.4 94.8C323.7 95.4 325.6 95.9 327.5 96.4C329.1 96.8 330.1 97.1 331.8 97.5C334.5 98.3 339.6 99.8 342.2 100.6C343.7 101.0 344.3 101.2 345.7 101.7C347.6 102.3 350.0 103.1 352.5 104.0C355.5 105.1 359.3 106.4 362.7 107.8C366.0 109.1 371.3 111.4 372.7 112.0C373.1 112.2 373.0 112.1 373.4 112.3C374.7 112.9 379.5 115.1 382.6 116.7C385.8 118.4 389.2 120.2 392.2 122.0C395.0 123.6 398.6 125.8 400.2 126.8C400.9 127.2 401.0 127.3 401.7 127.7C403.4 128.8 408.0 131.9 410.9 133.8C413.5 135.5 416.6 137.6 418.3 138.7C419.1 139.3 419.3 139.4 420.2 140.0C422.1 141.3 426.5 144.2 429.4 146.1C432.0 147.7 435.0 149.6 436.7 150.7C437.6 151.2 437.8 151.4 438.8 152.0C440.8 153.2 445.4 155.9 448.3 157.5C450.6 158.8 453.0 160.1 454.8 161.0C456.0 161.7 456.6 162.0 457.9 162.7C460.3 163.9 465.0 166.2 467.7 167.4C469.7 168.3 471.1 168.9 472.8 169.7C474.5 170.3 475.8 170.9 477.7 171.7C480.5 172.7 485.5 174.5 487.9 175.3C489.2 175.8 489.7 175.9 490.9 176.3C492.9 176.9 495.6 177.7 498.3 178.4C501.5 179.2 508.7 180.8 509.0 180.9C509.0 180.9 509.0 180.9 509.0 180.9C509.2 180.9 516.4 182.4 519.7 183.1C522.4 183.8 525.2 184.4 527.1 184.9C528.4 185.3 528.9 185.4 530.2 185.8C532.6 186.6 537.6 188.3 540.3 189.5C542.2 190.3 543.5 190.9 545.1 191.8C546.7 192.6 548.0 193.3 549.8 194.5C552.2 196.1 557.1 200.0 558.1 200.8C558.3 200.9 558.3 200.9 558.5 201.1C559.5 202.0 565.1 207.5 566.5 209.0C567.1 209.6 567.1 209.7 567.7 210.3C568.9 211.7 572.3 215.6 574.1 217.6C575.3 219.0 576.1 219.9 577.2 221.2C578.6 222.8 580.2 224.6 581.7 226.2C583.2 227.8 584.9 229.5 586.3 230.9C587.5 232.1 588.5 233.0 589.8 234.2C591.3 235.6 593.5 237.3 595.1 238.5C596.4 239.5 597.3 240.1 598.5 241.0C600.2 242.1 602.4 243.5 604.0 244.6C605.4 245.5 606.5 246.2 607.8 247.0C609.3 247.9 610.8 248.8 612.3 249.7C613.9 250.7 615.4 251.7 617.3 252.8C619.6 254.2 623.5 256.7 625.1 257.7C625.9 258.2 626.0 258.2 626.7 258.7C628.5 259.8 633.1 262.7 636.0 264.6C638.7 266.4 641.9 268.5 643.5 269.6C644.3 270.1 644.5 270.2 645.3 270.8C647.2 272.1 651.5 275.1 654.4 277.2C657.0 279.2 660.5 281.8 662.0 282.9C662.6 283.4 662.6 283.5 663.3 284.0C664.9 285.3 669.6 289.2 671.9 291.1C673.4 292.4 674.3 293.3 675.6 294.5C677.1 295.8 678.5 297.1 680.2 298.8C682.3 300.8 685.8 304.4 687.1 305.7C687.6 306.2 687.6 306.3 688.2 306.8C689.6 308.3 693.6 312.7 695.8 315.3C697.7 317.4 699.5 319.6 700.8 321.2C701.8 322.4 702.2 322.9 703.2 324.2C704.9 326.4 709.0 331.7 710.2 333.4C710.7 333.9 710.7 334.0 711.1 334.5C712.2 336.0 715.8 341.1 717.0 342.9C717.5 343.6 717.6 343.8 718.1 344.6C719.3 346.2 722.2 350.7 723.4 352.7C724.2 353.8 724.5 354.3 725.2 355.4C726.3 357.2 728.3 360.6 729.6 362.7C730.6 364.3 731.2 365.5 732.1 367.1C733.2 368.9 734.4 370.9 735.5 373.0C736.6 375.1 738.0 377.6 739.0 379.5C739.8 381.0 740.3 381.9 741.0 383.4C742.2 385.7 744.4 390.1 745.3 392.0C745.8 392.9 745.9 393.1 746.3 394.0C747.4 396.2 750.1 402.0 751.4 404.8C752.2 406.6 752.6 407.6 753.3 409.2C754.2 411.1 755.1 413.2 756.1 415.7C757.4 418.8 759.3 423.5 760.6 426.7C761.6 429.1 762.4 431.2 763.1 433.2C763.8 434.8 764.2 435.9 764.9 437.8C766.0 440.7 767.7 445.5 768.9 449.0C770.1 452.3 771.5 456.5 772.1 458.4C772.4 459.3 772.5 459.5 772.8 460.4C773.5 462.6 775.3 468.0 776.4 471.8C777.6 475.6 779.9 483.2 779.9 483.3C779.9 483.3 779.9 483.3 779.9 483.3C779.9 483.4 782.2 491.0 783.2 494.9C784.3 498.8 785.8 504.2 786.4 506.6C786.7 507.6 786.7 507.8 787.0 508.8C787.5 510.9 788.6 515.0 789.4 518.3C790.3 522.0 791.6 527.0 792.3 530.1C792.8 532.0 793.0 533.1 793.4 534.9C793.9 537.0 794.5 539.2 795.1 541.9C795.9 545.3 797.0 550.2 797.8 553.7C798.4 556.4 798.9 558.8 799.4 561.0C799.7 562.7 800.0 563.7 800.4 565.6C801.0 568.6 802.1 573.7 802.9 577.5C803.6 580.8 804.4 584.9 804.9 587.0C805.1 588.1 805.1 588.3 805.4 589.3C805.9 591.8 807.0 597.3 807.8 601.2C808.6 605.2 810.0 612.4 810.2 613.0C810.2 613.1 810.2 613.1 810.2 613.1C810.3 613.8 811.8 621.0 812.6 625.0C813.5 628.9 814.6 634.5 815.1 636.8C815.4 637.8 815.4 638.0 815.6 639.0C816.1 641.0 817.0 645.2 817.8 648.6C818.7 652.3 820.3 658.9 820.7 660.3C820.8 660.7 820.7 660.6 820.8 661.0C821.2 662.4 823.0 669.1 823.8 672.0C824.3 673.9 824.6 674.9 825.1 676.6C825.7 678.7 826.4 681.1 827.2 683.6C828.2 686.7 830.0 692.0 830.6 693.8C830.8 694.4 830.8 694.4 831.0 695.0C831.8 696.9 834.1 703.1 835.5 706.2C836.5 708.4 837.3 710.1 838.2 711.9C839.0 713.6 839.7 714.9 840.8 716.7C842.4 719.4 846.2 725.1 847.1 726.5C847.4 726.8 847.3 726.8 847.6 727.1C848.6 728.4 852.3 733.0 854.4 735.4C856.1 737.2 857.6 738.8 859.0 740.2C860.2 741.4 861.0 742.2 862.4 743.5C864.5 745.4 869.5 749.6 870.5 750.5C870.8 750.7 870.7 750.7 871.0 750.9C872.0 751.7 877.9 756.1 879.9 757.6C880.8 758.3 881.1 758.4 882.0 759.1C883.7 760.2 887.0 762.4 889.1 763.7C890.6 764.8 891.8 765.5 893.3 766.4C894.9 767.4 896.7 768.4 898.5 769.5C900.4 770.7 902.9 772.1 904.6 773.1C905.9 773.8 906.7 774.2 908.1 775.0C910.2 776.2 914.5 778.5 916.1 779.4C916.9 779.8 917.0 779.9 917.7 780.3C919.6 781.3 925.9 784.6 927.4 785.4C927.9 785.7 927.9 785.7 928.4 785.9C929.8 786.7 934.2 788.9 937.2 790.5C940.4 792.1 944.2 793.9 947.1 795.3C949.3 796.4 951.2 797.3 953.0 798.2C954.4 798.8 955.3 799.3 956.9 800.0C959.5 801.2 963.6 803.0 966.9 804.5C970.2 806.0 973.6 807.5 976.9 808.9C980.2 810.3 984.8 812.1 987.0 813.0C988.0 813.5 988.3 813.6 989.3 814.0C991.1 814.7 994.3 816.0 997.1 817.0C1000.2 818.2 1003.8 819.6 1007.2 820.8C1010.6 822.0 1014.2 823.2 1017.5 824.3C1020.4 825.3 1023.9 826.5 1025.7 827.1C1026.6 827.4 1026.8 827.4 1027.7 827.7C1029.8 828.4 1034.6 829.9 1038.0 830.9C1041.5 831.9 1044.9 832.9 1048.4 833.9C1051.9 834.9 1056.3 836.1 1058.8 836.7C1060.3 837.1 1060.9 837.3 1062.3 837.6C1064.2 838.1 1066.7 838.8 1069.2 839.4C1072.4 840.2 1076.2 841.1 1079.7 841.9C1083.2 842.7 1086.9 843.5 1090.2 844.3C1093.2 844.9 1096.9 845.7 1098.8 846.1C1099.6 846.2 1099.8 846.3 1100.7 846.5C1102.8 846.9 1107.8 847.9 1111.3 848.5C1114.8 849.2 1118.3 849.9 1121.8 850.5C1125.4 851.1 1129.5 851.8 1132.4 852.3C1134.4 852.7 1135.8 852.9 1137.5 853.2C1139.3 853.5 1140.9 853.7 1143.0 854.0C1146.0 854.5 1150.1 855.1 1153.6 855.7C1157.2 856.2 1160.7 856.7 1164.3 857.2C1167.8 857.7 1171.4 858.2 1174.9 858.6C1178.4 859.1 1182.0 859.5 1185.5 860.0C1189.1 860.4 1192.7 860.8 1196.2 861.2C1199.6 861.6 1205.0 862.2 1206.3 862.3C1206.6 862.4 1206.5 862.4 1206.8 862.4C1208.1 862.5 1213.9 863.2 1217.5 863.5C1221.0 863.9 1224.6 864.2 1228.1 864.5C1231.7 864.9 1235.2 865.2 1238.8 865.5C1242.3 865.8 1245.9 866.1 1249.4 866.4C1253.0 866.7 1256.6 867.0 1260.1 867.3C1263.7 867.5 1267.2 867.8 1270.8 868.0C1274.4 868.3 1277.9 868.5 1281.5 868.8C1285.0 869.0 1288.6 869.2 1292.2 869.4C1295.7 869.7 1299.4 869.9 1302.8 870.1C1306.0 870.2 1310.1 870.5 1311.9 870.6C1312.6 870.6 1312.7 870.6 1313.5 870.6C1315.5 870.8 1320.7 871.0 1324.2 871.2C1327.8 871.4 1331.3 871.5 1334.9 871.7C1338.5 871.9 1342.0 872.0 1345.6 872.2C1349.2 872.3 1352.7 872.5 1356.3 872.6C1359.9 872.7 1363.4 872.9 1367.0 873.0C1370.6 873.2 1374.1 873.3 1377.7 873.4C1381.3 873.5 1384.8 873.7 1388.4 873.8C1392.0 873.9 1395.5 874.0 1399.1 874.1C1402.7 874.3 1406.3 874.4 1409.8 874.5C1413.4 874.6 1417.5 874.7 1420.5 874.8C1422.8 874.9 1424.5 874.9 1426.4 875.0C1428.1 875.0 1429.3 875.1 1431.2 875.1C1434.1 875.2 1438.4 875.4 1441.9 875.5C1445.5 875.6 1449.1 875.7 1452.6 875.8C1456.2 875.9 1459.8 876.0 1463.3 876.1C1466.9 876.2 1470.5 876.4 1474.0 876.5C1477.6 876.6 1481.2 876.7 1484.8 876.8C1488.3 876.9 1491.9 877.1 1495.5 877.2C1499.0 877.3 1502.6 877.4 1506.2 877.6C1509.7 877.7 1513.3 877.8 1516.9 878.0C1520.4 878.1 1524.0 878.3 1527.6 878.4C1531.1 878.6 1534.7 878.7 1538.2 878.9C1541.8 879.1 1546.1 879.3 1548.9 879.4C1550.9 879.5 1552.1 879.5 1553.7 879.6C1555.6 879.7 1557.4 879.8 1559.6 879.9C1562.7 880.1 1566.7 880.3 1570.3 880.5C1573.9 880.7 1577.4 880.9 1581.0 881.1C1584.6 881.3 1588.1 881.6 1591.7 881.8C1595.2 882.0 1598.8 882.3 1602.3 882.5C1605.9 882.7 1609.5 883.0 1613.0 883.3C1616.6 883.5 1620.1 883.8 1623.7 884.1" stroke="#c7990f"/>
</g></g>
<rect x="281.6" y="21.1" width="1568.9" height="1258.8" fill="none" stroke="#262626" stroke-width="2"/>
<g class="s" font-size="74.5" text-anchor="end">
<text x="254" y="1302.6">0</text>
<text x="254" y="1182.6">10</text>
<text x="254" y="1062.7">20</text>
<text x="254" y="942.7">30</text>
<text x="254" y="822.8">40</text>
<text x="254" y="702.8">50</text>
<text x="254" y="582.8">60</text>
<text x="254" y="462.9">70</text>
<text x="254" y="342.9">80</text>
<text x="254" y="223.0">90</text>
<text x="254" y="103.0">100</text>
</g>
<g class="s" font-size="74" text-anchor="middle">
<text x="611.4" y="1364.5" textLength="116.5" lengthAdjust="spacingAndGlyphs">200</text>
<text x="1024.4" y="1364.5" textLength="116.5" lengthAdjust="spacingAndGlyphs">400</text>
<text x="1437.5" y="1364.5" textLength="116.5" lengthAdjust="spacingAndGlyphs">600</text>
<text x="1850.5" y="1364.5" textLength="116.5" lengthAdjust="spacingAndGlyphs">800</text>
</g>
<text class="s" font-size="98.5" text-anchor="middle" x="1096.9" y="1495.2" textLength="639" lengthAdjust="spacingAndGlyphs">Temperature/°C</text>
<text class="s" font-size="100" text-anchor="middle" transform="translate(89.8 684.3) rotate(-90)">Mass/%</text>
<g stroke="#808000" fill="#808000" stroke-linejoin="round" stroke-linecap="round"><path d="M1054 951H1224" stroke-width="15.6" fill="none"/><path d="M972.6 951.4L1052.7 929.9V973Z" stroke-width="9.5"/></g>
<rect x="437.7" y="740.6" width="517.9" height="380.4" fill="#fff" stroke="none"/>
<g clip-path="url(#ci)" fill="none" stroke-width="7.2" stroke-linejoin="round">
<path d="M434.0 760.0C434.6 761.2 435.6 763.1 435.8 763.5C435.8 763.6 435.8 763.6 435.9 763.7C436.1 764.1 437.0 766.0 437.6 767.1C438.2 768.3 438.8 769.5 439.4 770.7C439.9 771.9 440.5 773.1 441.1 774.3C441.7 775.5 442.4 776.9 442.9 777.9C443.2 778.6 443.5 779.1 443.8 779.7C444.1 780.3 444.3 780.8 444.6 781.5C445.1 782.5 445.8 783.9 446.4 785.1C447.0 786.3 447.6 787.5 448.2 788.7C448.8 789.9 449.4 791.1 450.0 792.3C450.6 793.5 451.2 794.7 451.8 795.9C452.4 797.1 453.0 798.3 453.6 799.5C454.2 800.7 455.0 802.3 455.4 803.1C455.6 803.5 455.6 803.6 455.8 804.0C456.2 804.7 456.7 805.7 457.2 806.7C457.8 807.8 458.5 809.1 459.1 810.3C459.7 811.5 460.4 812.6 461.0 813.8C461.7 815.0 462.3 816.2 463.0 817.3C463.6 818.5 464.3 819.7 464.9 820.9C465.6 822.0 466.3 823.2 466.9 824.3C467.5 825.3 468.2 826.4 468.5 827.0C468.7 827.3 468.8 827.4 469.0 827.8C469.4 828.5 470.4 830.1 471.1 831.2C471.8 832.3 472.5 833.5 473.3 834.6C474.0 835.7 474.7 836.8 475.5 837.9C476.2 839.0 477.0 840.1 477.7 841.2C478.5 842.3 479.3 843.5 480.0 844.5C480.7 845.4 481.4 846.4 481.8 846.9C482.1 847.3 482.1 847.4 482.4 847.7C482.9 848.4 484.0 849.8 484.8 850.9C485.6 851.9 486.4 853.0 487.3 854.0C488.1 855.1 488.9 856.1 489.8 857.2C490.6 858.2 491.5 859.2 492.3 860.2C493.2 861.3 494.5 862.8 494.9 863.3C495.0 863.4 495.0 863.4 495.1 863.6C495.5 864.0 496.7 865.4 497.5 866.3C498.4 867.3 499.3 868.3 500.2 869.3C501.1 870.3 502.0 871.3 502.9 872.3C503.8 873.3 504.7 874.3 505.6 875.2C506.4 876.1 507.6 877.4 508.0 877.9C508.2 878.0 508.2 878.0 508.3 878.2C508.8 878.6 510.2 880.1 511.1 881.1C512.0 882.0 512.9 883.0 513.9 884.0C514.8 884.9 515.8 885.9 516.7 886.8C517.6 887.8 518.8 888.9 519.5 889.7C520.1 890.2 520.4 890.6 520.9 891.0C521.4 891.5 521.8 891.9 522.4 892.5C523.2 893.3 524.3 894.4 525.2 895.3C526.2 896.3 527.1 897.2 528.1 898.2C529.1 899.1 530.0 900.0 531.0 901.0C531.9 901.8 533.4 903.2 533.7 903.6C533.8 903.7 533.8 903.7 533.9 903.7C534.2 904.1 535.8 905.6 536.8 906.5C537.7 907.4 538.7 908.3 539.7 909.3C540.7 910.2 541.6 911.1 542.6 912.0C543.6 912.9 544.8 914.0 545.6 914.7C546.1 915.2 546.5 915.5 546.9 915.9C547.4 916.4 547.9 916.8 548.6 917.4C549.4 918.1 550.6 919.1 551.6 920.0C552.6 920.9 553.6 921.8 554.6 922.6C555.6 923.5 556.7 924.4 557.6 925.2C558.5 926.0 559.6 926.9 560.2 927.3C560.4 927.5 560.5 927.6 560.7 927.8C561.3 928.3 562.8 929.5 563.8 930.3C564.9 931.1 565.9 932.0 567.0 932.8C567.9 933.5 569.3 934.6 569.8 934.9C570.0 935.1 570.0 935.1 570.1 935.2C570.7 935.6 572.3 936.8 573.4 937.6C574.4 938.4 575.5 939.1 576.6 939.9C577.7 940.7 579.0 941.6 579.9 942.2C580.5 942.6 580.9 942.9 581.4 943.2C582.0 943.6 582.5 944.0 583.2 944.4C584.1 945.1 585.4 945.9 586.5 946.7C587.7 947.4 588.8 948.1 589.9 948.8C591.1 949.6 592.2 950.3 593.3 951.0C594.5 951.7 595.6 952.4 596.7 953.1C597.9 953.8 599.1 954.5 600.2 955.2C601.1 955.7 602.1 956.3 602.7 956.7C603.1 956.9 603.2 957.0 603.6 957.2C604.4 957.7 605.9 958.6 607.1 959.3C608.2 960.0 609.4 960.6 610.6 961.3C611.7 962.0 612.9 962.6 614.0 963.3C615.2 964.0 616.4 964.7 617.5 965.3C618.7 966.0 619.9 966.6 621.0 967.3C622.2 968.0 623.4 968.6 624.5 969.3C625.7 969.9 627.2 970.8 628.0 971.3C628.4 971.5 628.5 971.5 628.9 971.7C629.5 972.1 630.6 972.7 631.5 973.2C632.6 973.8 633.9 974.5 635.0 975.2C636.2 975.8 637.4 976.4 638.5 977.1C639.7 977.7 640.9 978.4 642.1 979.0C643.2 979.6 644.4 980.3 645.6 980.9C646.8 981.5 647.9 982.2 649.1 982.8C650.3 983.4 651.6 984.1 652.6 984.7C653.6 985.2 654.6 985.7 655.2 986.1C655.6 986.3 655.8 986.3 656.2 986.6C657.0 987.0 658.5 987.8 659.7 988.4C660.9 989.0 662.1 989.6 663.3 990.3C664.5 990.9 665.7 991.5 666.8 992.1C668.0 992.7 669.2 993.3 670.4 993.9C671.6 994.5 672.8 995.1 674.0 995.7C675.2 996.3 676.4 996.9 677.6 997.5C678.8 998.1 680.8 999.1 681.1 999.2C681.2 999.2 681.1 999.2 681.2 999.2C681.5 999.4 683.6 1000.4 684.8 1001.0C686.0 1001.6 687.2 1002.2 688.4 1002.7C689.6 1003.3 690.8 1003.9 692.0 1004.5C693.2 1005.0 694.4 1005.6 695.6 1006.2C696.8 1006.8 698.0 1007.3 699.2 1007.9C700.4 1008.5 701.7 1009.0 702.9 1009.6C704.1 1010.2 705.9 1011.0 706.5 1011.3C706.7 1011.4 706.7 1011.4 706.8 1011.4C707.4 1011.7 709.0 1012.5 710.1 1013.0C711.3 1013.5 712.6 1014.1 713.8 1014.7C715.0 1015.2 716.2 1015.8 717.4 1016.3C718.6 1016.9 719.9 1017.4 721.1 1018.0C722.3 1018.5 723.5 1019.1 724.7 1019.6C726.0 1020.2 727.2 1020.7 728.4 1021.3C729.6 1021.8 731.3 1022.6 732.0 1022.9C732.4 1023.1 732.5 1023.1 732.8 1023.3C733.4 1023.6 734.7 1024.1 735.7 1024.6C736.9 1025.1 738.2 1025.7 739.4 1026.2C740.6 1026.8 741.8 1027.3 743.0 1027.9C744.3 1028.4 745.5 1029.0 746.7 1029.5C747.9 1030.0 749.1 1030.6 750.4 1031.1C751.6 1031.7 752.8 1032.2 754.0 1032.8C755.3 1033.3 757.2 1034.2 757.7 1034.4C757.8 1034.5 757.8 1034.4 757.9 1034.5C758.4 1034.7 760.2 1035.5 761.4 1036.0C762.6 1036.6 763.8 1037.1 765.0 1037.7C766.3 1038.2 767.5 1038.8 768.7 1039.3C769.9 1039.8 771.1 1040.4 772.4 1040.9C773.6 1041.5 774.8 1042.0 776.0 1042.6C777.2 1043.1 778.9 1043.9 779.7 1044.2C780.0 1044.4 780.1 1044.4 780.5 1044.6C781.2 1044.9 782.3 1045.4 783.3 1045.9C784.5 1046.4 785.8 1047.0 787.0 1047.5C788.2 1048.1 789.4 1048.6 790.6 1049.2C791.9 1049.7 793.1 1050.3 794.3 1050.9C795.5 1051.4 796.8 1052.0 797.9 1052.5C799.1 1053.0 800.6 1053.8 801.2 1054.0C801.4 1054.1 801.4 1054.1 801.6 1054.2C802.2 1054.5 804.0 1055.3 805.2 1055.9C806.4 1056.5 807.6 1057.0 808.9 1057.6C810.1 1058.2 811.3 1058.7 812.5 1059.3C813.7 1059.9 814.9 1060.5 816.1 1061.0C817.3 1061.6 818.7 1062.3 819.7 1062.8C820.5 1063.1 821.1 1063.4 821.8 1063.7C822.3 1064.0 822.7 1064.2 823.3 1064.5C824.3 1065.0 825.7 1065.7 826.9 1066.2C828.1 1066.8 829.3 1067.4 830.5 1068.0C831.7 1068.6 832.9 1069.2 834.1 1069.8C835.3 1070.4 836.5 1071.0 837.7 1071.6C838.9 1072.2 840.4 1072.9 841.3 1073.4C841.8 1073.7 842.1 1073.8 842.6 1074.0C843.2 1074.4 844.0 1074.8 844.9 1075.2C845.9 1075.7 847.2 1076.4 848.4 1077.0C849.6 1077.7 850.8 1078.3 852.0 1078.9C853.1 1079.5 854.3 1080.1 855.5 1080.8C856.7 1081.4 857.9 1082.0 859.0 1082.7C860.2 1083.3 861.8 1084.1 862.6 1084.5C863.0 1084.8 863.1 1084.8 863.5 1085.1C864.2 1085.4 865.2 1085.9 866.1 1086.5C867.2 1087.0 868.4 1087.7 869.6 1088.4C870.8 1089.0 872.0 1089.6 873.1 1090.3C874.3 1090.9 875.6 1091.6 876.7 1092.2C877.5 1092.6 878.2 1093.0 878.8 1093.4C879.3 1093.6 879.6 1093.8 880.2 1094.1C881.1 1094.6 882.5 1095.4 883.7 1096.0C884.9 1096.6 886.2 1097.3 887.2 1097.9C888.0 1098.3 888.6 1098.6 889.2 1099.0C889.8 1099.2 890.1 1099.4 890.7 1099.8C891.7 1100.2 893.1 1101.0 894.3 1101.6C895.5 1102.2 896.8 1102.9 897.8 1103.5C898.6 1103.8 899.1 1104.1 899.8 1104.4C900.3 1104.7 900.7 1104.9 901.4 1105.3C902.3 1105.7 903.7 1106.5 904.9 1107.1C906.1 1107.6 907.6 1108.4 908.5 1108.8C909.0 1109.1 909.2 1109.2 909.7 1109.4C910.4 1109.7 911.2 1110.1 912.1 1110.6C913.1 1111.1 914.4 1111.8 915.6 1112.4C916.8 1113.0 918.3 1113.7 919.2 1114.2C919.6 1114.4 919.8 1114.5 920.2 1114.8C920.9 1115.1 921.8 1115.6 922.7 1116.1C923.7 1116.7 925.2 1117.5 926.1 1118.1C926.8 1118.5 927.2 1118.8 927.8 1119.1C928.4 1119.5 928.8 1119.8 929.5 1120.2C930.4 1120.9 932.4 1122.2 932.8 1122.5C932.9 1122.6 932.9 1122.6 933.0 1122.7C933.4 1123.0 935.0 1124.2 936.0 1125.0" stroke="#ec4248"/>
<path d="M434.0 744.0C434.6 745.2 435.5 747.3 435.7 747.7C435.8 747.9 435.7 747.9 435.8 748.0C436.0 748.4 436.9 750.3 437.4 751.5C438.0 752.7 438.6 754.0 439.1 755.3C439.7 756.5 440.3 757.8 440.9 759.0C441.5 760.2 442.2 761.8 442.7 762.7C443.0 763.4 443.2 763.7 443.4 764.3C443.7 765.0 444.1 765.7 444.5 766.5C445.0 767.6 445.7 769.0 446.3 770.2C446.9 771.5 447.5 772.7 448.2 773.9C448.8 775.2 449.4 776.4 450.0 777.6C450.7 778.9 451.3 780.1 452.0 781.3C452.6 782.5 453.3 783.8 453.9 785.0C454.5 786.2 455.6 788.0 455.8 788.5C455.8 788.6 455.8 788.5 455.9 788.6C456.1 789.1 457.2 791.1 457.9 792.3C458.6 793.5 459.3 794.7 460.0 795.9C460.7 797.1 461.4 798.3 462.1 799.5C462.8 800.7 463.5 801.8 464.2 803.0C464.9 804.2 465.6 805.4 466.4 806.5C467.1 807.7 468.5 809.8 468.6 810.0C468.6 810.1 468.6 810.0 468.6 810.1C468.8 810.3 470.1 812.3 470.9 813.5C471.7 814.6 472.4 815.8 473.2 816.9C474.0 818.0 474.8 819.2 475.6 820.3C476.4 821.4 477.2 822.5 478.0 823.6C478.8 824.7 479.8 826.0 480.5 826.9C481.0 827.6 481.4 828.1 481.9 828.7C482.3 829.2 482.6 829.6 483.0 830.2C483.7 831.1 484.7 832.3 485.6 833.4C486.5 834.5 487.4 835.5 488.2 836.6C489.1 837.6 490.0 838.7 490.9 839.7C491.8 840.8 492.8 842.0 493.6 842.9C494.2 843.5 494.7 844.1 495.2 844.6C495.6 845.1 495.9 845.4 496.4 845.9C497.1 846.7 498.2 848.0 499.2 849.0C500.1 850.0 501.0 851.0 502.0 852.0C502.9 853.0 503.9 854.0 504.8 855.0C505.8 856.0 507.2 857.4 507.7 857.9C507.9 858.1 507.9 858.1 508.1 858.3C508.6 858.8 509.8 860.0 510.7 860.9C511.6 861.8 512.6 862.8 513.6 863.7C514.6 864.7 515.6 865.7 516.6 866.6C517.6 867.6 518.9 868.7 519.6 869.4C520.1 869.9 520.4 870.2 520.9 870.6C521.4 871.1 522.0 871.6 522.7 872.3C523.6 873.1 524.7 874.1 525.8 875.0C526.8 876.0 527.8 876.9 528.8 877.8C529.9 878.7 531.1 879.8 532.0 880.5C532.6 881.1 533.1 881.5 533.6 882.0C534.1 882.4 534.5 882.8 535.1 883.3C535.9 884.0 537.2 885.1 538.2 886.0C539.3 886.8 540.3 887.7 541.4 888.6C542.5 889.5 543.6 890.5 544.6 891.3C545.4 891.9 546.2 892.5 546.8 893.0C547.2 893.4 547.4 893.5 547.8 893.9C548.6 894.5 550.0 895.6 551.0 896.5C552.1 897.3 553.2 898.2 554.3 899.1C555.4 899.9 556.5 900.8 557.5 901.6C558.4 902.3 559.4 903.0 560.0 903.5C560.3 903.8 560.5 903.9 560.8 904.1C561.6 904.7 563.0 905.8 564.1 906.6C565.2 907.5 566.3 908.3 567.4 909.1C568.5 910.0 569.8 910.9 570.8 911.6C571.6 912.2 572.4 912.8 573.0 913.2C573.4 913.6 573.6 913.7 574.1 914.0C574.9 914.6 576.3 915.7 577.5 916.5C578.6 917.3 579.7 918.1 580.8 918.9C582.0 919.7 583.5 920.7 584.2 921.2C584.5 921.5 584.6 921.5 584.9 921.7C585.5 922.2 586.7 922.9 587.6 923.6C588.7 924.3 589.9 925.2 591.0 925.9C592.2 926.7 593.3 927.5 594.4 928.3C595.5 929.0 597.1 930.1 597.6 930.4C597.7 930.5 597.7 930.5 597.9 930.6C598.4 930.9 600.2 932.1 601.3 932.9C602.5 933.6 603.6 934.4 604.7 935.1C605.9 935.9 607.2 936.7 608.2 937.4C609.1 938.0 609.9 938.5 610.5 938.9C611.0 939.2 611.2 939.4 611.7 939.7C612.5 940.2 614.0 941.2 615.1 941.9C616.3 942.7 617.4 943.4 618.6 944.2C619.8 944.9 620.9 945.7 622.1 946.4C623.2 947.2 624.4 947.9 625.6 948.7C626.7 949.4 628.6 950.6 628.9 950.8C629.0 950.9 629.0 950.9 629.0 950.9C629.4 951.1 631.4 952.4 632.5 953.1C633.7 953.9 634.8 954.6 636.0 955.4C637.2 956.1 638.3 956.9 639.5 957.6C640.7 958.4 641.8 959.1 643.0 959.8C644.1 960.6 645.3 961.3 646.5 962.1C647.6 962.8 648.8 963.6 649.9 964.3C651.1 965.1 652.5 966.0 653.4 966.6C654.0 966.9 654.2 967.1 654.7 967.4C655.3 967.8 656.1 968.3 656.9 968.8C657.9 969.5 659.2 970.3 660.4 971.0C661.6 971.8 662.7 972.5 663.9 973.3C665.1 974.0 666.2 974.8 667.4 975.5C668.6 976.2 669.7 977.0 670.9 977.7C672.1 978.4 673.2 979.2 674.4 979.9C675.6 980.6 676.8 981.4 677.9 982.1C679.0 982.7 680.4 983.6 681.0 983.9C681.2 984.1 681.2 984.1 681.5 984.2C682.1 984.6 683.8 985.6 685.0 986.4C686.2 987.1 687.4 987.8 688.6 988.5C689.7 989.2 690.9 989.9 692.1 990.6C693.3 991.3 694.5 991.9 695.7 992.6C696.9 993.3 698.1 994.0 699.3 994.7C700.5 995.3 701.7 996.0 702.9 996.7C704.1 997.3 705.8 998.3 706.5 998.7C706.9 998.8 706.9 998.9 707.2 999.0C707.9 999.4 709.1 1000.1 710.2 1000.6C711.3 1001.3 712.6 1001.9 713.8 1002.6C715.0 1003.2 716.3 1003.9 717.5 1004.5C718.7 1005.2 719.9 1005.8 721.1 1006.4C722.4 1007.1 723.6 1007.7 724.8 1008.3C726.0 1009.0 727.3 1009.6 728.5 1010.2C729.7 1010.9 731.4 1011.7 732.2 1012.1C732.5 1012.3 732.6 1012.3 733.0 1012.5C733.6 1012.9 734.8 1013.5 735.9 1014.0C737.0 1014.6 738.3 1015.2 739.5 1015.9C740.8 1016.5 742.0 1017.1 743.2 1017.7C744.5 1018.4 745.7 1019.0 746.9 1019.6C748.2 1020.2 749.4 1020.8 750.6 1021.5C751.9 1022.1 753.1 1022.7 754.3 1023.3C755.5 1023.9 757.5 1024.9 757.9 1025.1C758.0 1025.1 757.9 1025.1 758.0 1025.2C758.4 1025.4 760.5 1026.4 761.7 1027.0C762.9 1027.7 764.2 1028.3 765.4 1028.9C766.6 1029.5 767.9 1030.1 769.1 1030.7C770.3 1031.4 771.6 1032.0 772.8 1032.6C774.0 1033.2 775.3 1033.8 776.5 1034.4C777.7 1035.1 779.8 1036.1 780.2 1036.3C780.3 1036.3 780.3 1036.3 780.4 1036.4C780.8 1036.6 782.7 1037.5 783.9 1038.1C785.1 1038.7 786.4 1039.3 787.6 1040.0C788.9 1040.6 790.1 1041.2 791.3 1041.8C792.6 1042.4 793.8 1043.0 795.1 1043.6C796.3 1044.2 797.7 1044.9 798.8 1045.4C799.6 1045.8 800.3 1046.2 800.9 1046.5C801.5 1046.8 801.9 1046.9 802.5 1047.3C803.5 1047.7 805.0 1048.5 806.2 1049.1C807.5 1049.7 808.7 1050.3 809.9 1050.9C811.2 1051.5 812.4 1052.1 813.7 1052.7C814.9 1053.3 816.2 1053.9 817.4 1054.5C818.7 1055.0 820.5 1055.9 821.1 1056.2C821.4 1056.3 821.4 1056.3 821.6 1056.5C822.2 1056.7 823.8 1057.5 824.9 1058.0C826.1 1058.6 827.4 1059.2 828.6 1059.8C829.9 1060.4 831.1 1060.9 832.4 1061.5C833.6 1062.1 834.9 1062.7 836.1 1063.3C837.4 1063.9 838.8 1064.5 839.9 1065.0C840.9 1065.5 841.9 1065.9 842.6 1066.3C843.0 1066.5 843.2 1066.5 843.7 1066.8C844.5 1067.2 846.2 1067.9 847.4 1068.5C848.7 1069.1 849.9 1069.6 851.2 1070.2C852.4 1070.8 853.7 1071.4 855.0 1072.0C856.2 1072.5 857.5 1073.1 858.7 1073.7C860.0 1074.3 861.6 1075.0 862.5 1075.4C863.0 1075.7 863.2 1075.8 863.7 1076.0C864.4 1076.3 865.3 1076.7 866.2 1077.2C867.4 1077.7 868.7 1078.3 870.0 1078.9C871.2 1079.5 872.5 1080.1 873.7 1080.7C875.0 1081.2 876.2 1081.8 877.5 1082.4C878.7 1083.0 880.0 1083.6 881.2 1084.2C882.3 1084.7 883.6 1085.3 884.3 1085.7C884.6 1085.8 884.6 1085.8 885.0 1086.0C885.7 1086.3 887.4 1087.2 888.7 1087.8C889.9 1088.4 891.2 1089.0 892.4 1089.6C893.6 1090.2 894.9 1090.8 896.1 1091.4C897.3 1092.0 898.6 1092.7 899.8 1093.3C901.0 1093.9 902.6 1094.7 903.5 1095.2C904.0 1095.4 904.2 1095.5 904.6 1095.8C905.3 1096.1 906.2 1096.6 907.1 1097.0C908.3 1097.6 909.6 1098.3 910.8 1099.0C912.0 1099.6 913.2 1100.3 914.4 1100.9C915.7 1101.6 916.9 1102.2 918.1 1102.9C919.3 1103.5 920.5 1104.2 921.7 1104.9C922.9 1105.6 924.9 1106.7 925.3 1106.9C925.4 1107.0 925.3 1107.0 925.4 1107.0C925.8 1107.2 927.7 1108.3 928.9 1109.0C930.0 1109.7 931.2 1110.4 932.4 1111.1C933.6 1111.8 934.7 1112.6 935.9 1113.3C937.1 1114.0 938.4 1114.9 939.4 1115.5C940.1 1115.9 940.5 1116.2 941.1 1116.6C941.7 1117.0 942.2 1117.3 942.9 1117.8C943.8 1118.4 945.1 1119.3 946.3 1120.1C947.4 1120.9 949.4 1122.4 949.7 1122.5C949.7 1122.5 949.7 1122.5 949.7 1122.6C949.9 1122.7 951.9 1124.2 953.0 1125.0" stroke="#1f6cd8"/>
</g>
<rect x="437.7" y="740.6" width="517.9" height="380.4" fill="none" stroke="#2a2a2a" stroke-width="1.5"/>
<path d="M437.7 1025.9h7.8M437.7 930.8h7.8M437.7 835.7h7.8M437.7 1073.5h4.5M437.7 978.4h4.5M437.7 883.2h4.5M437.7 788.2h4.5M610.3 1121v-7.8M783.0 1121v-7.8M524.0 1121v-4.5M696.6 1121v-4.5M869.3 1121v-4.5" stroke="#333" stroke-width="1" fill="none"/>
<g class="s" font-size="45" text-anchor="end">
<text x="425.5" y="1134.6">28</text>
<text x="425.5" y="1039.5">29</text>
<text x="425.5" y="944.4">30</text>
<text x="425.5" y="849.3">31</text>
<text x="425.5" y="754.2">32</text>
</g>
<g class="s" font-size="46" text-anchor="middle">
<text x="437.7" y="1165">500</text>
<text x="610.3" y="1165">600</text>
<text x="783.0" y="1165">700</text>
<text x="955.6" y="1165">800</text>
</g>
<text class="s" font-size="47.8" text-anchor="middle" x="698.4" y="1227.5">Temperature/°C</text>
<text class="s" font-size="49.5" text-anchor="middle" transform="translate(354 963.9) rotate(-90)">Mass/%</text>
<g stroke-width="6.4" stroke-linecap="round" fill="none">
<path d="M1076 167.7H1190" stroke="#4d4d4d"/>
<path d="M1076 227.6H1190" stroke="#ec4248"/>
<path d="M1076 288.2H1190" stroke="#1f6cd8"/>
<path d="M1076 348.3H1190" stroke="#c7990f"/>
</g>
<rect x="1185.7" y="68.0" width="637.6" height="302.8" fill="#fff"/>
<path d="M1397.4 68.0V370.8M1609.6 68.0V370.8M1185.7 134.3H1823.3M1185.7 194.1H1823.3M1185.7 253.6H1823.3M1185.7 311.7H1823.3" stroke="#c4c4c4" stroke-width="1.3" fill="none"/>
<rect x="1185.7" y="68.0" width="637.6" height="302.8" fill="none" stroke="#3a3a3a" stroke-width="1.8"/>
<g class="a" font-size="43.6">
<text x="1200.5" y="110">Samples</text>
<text x="1411" y="110">T<tspan font-size="35" dy="12">-10%</tspan><tspan dy="-12" dx="5">/</tspan></text>
<text class="cj" font-size="40" transform="translate(1536 110) scale(1.07 1)">℃</text>
<text x="1622.5" y="110">C<tspan font-size="33" dy="15.8" dx="13">800</tspan><tspan dy="-15.8" dx="6">/%</tspan></text>
<text x="1200.7" y="174.8">EP0</text>
<text x="1592.5" y="174.8" text-anchor="end">323.3</text>
<text x="1805" y="174.8" text-anchor="end">8.1</text>
<text x="1200.7" y="234.0">EP1</text>
<text x="1592.5" y="234.0" text-anchor="end">281.4</text>
<text x="1805" y="234.0" text-anchor="end">27.8</text>
<text x="1200.7" y="292.9">EP2</text>
<text x="1592.5" y="292.9" text-anchor="end">260.8</text>
<text x="1805" y="292.9" text-anchor="end">27.9</text>
<text x="1200.7" y="351.4">EP5</text>
<text x="1592.5" y="351.4" text-anchor="end">212.2</text>
<text x="1805" y="351.4" text-anchor="end">33</text>
</g>
</svg></body></html>
